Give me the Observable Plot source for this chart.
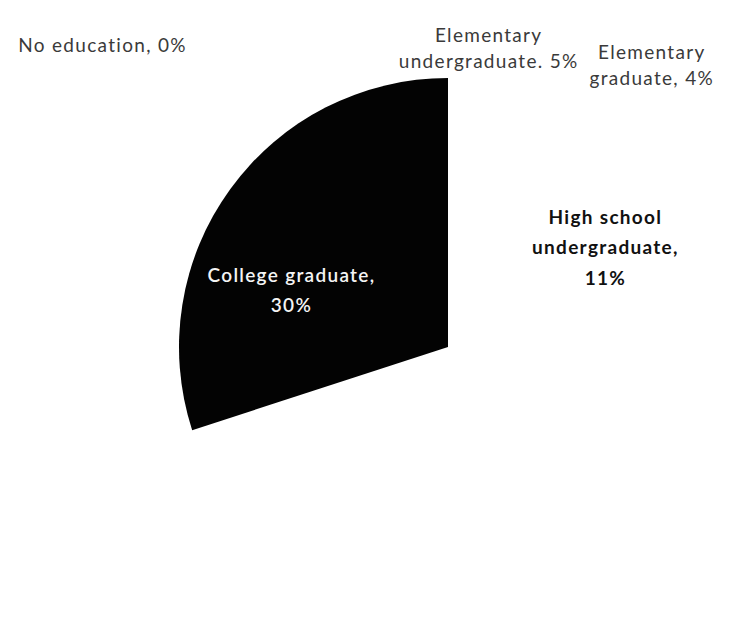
<!DOCTYPE html>
<html><head><meta charset="utf-8">
<script src="https://cdn.jsdelivr.net/npm/d3@7"></script>
<script src="https://cdn.jsdelivr.net/npm/@observablehq/plot@0.6"></script>
<style>body{margin:0;background:#fff;}</style>
</head><body><div id="chart"></div>
<script>
// ---- data ----
const categories = ["No education", "Elementary undergraduate", "Elementary graduate", "High school undergraduate", "High school graduate", "College undergraduate", "College graduate"];
const shares = [0, 5, 4, 11, 30, 20, 30];
const labels = ["No education, 0%", "Elementary\nundergraduate. 5%", "Elementary\ngraduate, 4%", "High school\nundergraduate,\n11%", "", "", "College graduate,\n30%"];

// ---- styles / layout ----
const sliceColors = ["#ffffff", "#ffffff", "#ffffff", "#ffffff", "#ffffff", "#ffffff", "#030303"];
const labelStyle = ["plain", "plain", "plain", "bold", "none", "none", "inverse"];
// label placement: polar angle (deg, clockwise from 12 o'clock) and radius factor
const labelAngle = [311.3, 7.6, 35.6, 56.7, 0, 0, 290.9];
const labelRadius = [1.712, 1.129, 1.298, 0.698, 0, 0, 0.625];
const W = 732, H = 619, CX = 448, CY = 347, R = 269;

const rows = categories.map((c, i) => ({category: c, share: shares[i], label: labels[i], color: sliceColors[i], style: labelStyle[i],
  lx: labelRadius[i] * Math.sin(labelAngle[i] * Math.PI / 180),
  ly: labelRadius[i] * Math.cos(labelAngle[i] * Math.PI / 180)}));
const arcs = d3.pie().sort(null).value(d => d.share)(rows);

function pieMark(index, scales) {
  const cx = scales.x(0), cy = scales.y(0), r = scales.x(1) - scales.x(0);
  const g = d3.create("svg:g").attr("transform", `translate(${cx},${cy})`);
  const arc = d3.arc().innerRadius(0).outerRadius(r);
  g.selectAll("path").data(arcs).join("path").attr("d", arc).attr("fill", d => d.data.color);
  return g.node();
}

const font = "Lato, 'Open Sans', sans-serif";
const plot = Plot.plot({
  width: W, height: H, margin: 0,
  style: {fontFamily: font, background: "#fff", letterSpacing: "1.3px"},
  x: {domain: [-CX / R, (W - CX) / R], axis: null},
  y: {domain: [-(H - CY) / R, CY / R], axis: null},
  marks: [
    pieMark,
    Plot.text(rows.filter(d => d.style === "plain"), {x: "lx", y: "ly", text: "label", fill: "#3a3a3a", fontSize: 19, lineHeight: 1.4, fontFamily: font}),
    Plot.text(rows.filter(d => d.style === "bold"), {x: "lx", y: "ly", text: "label", fill: "#111", fontSize: 19, fontWeight: "bold", lineHeight: 1.6, fontFamily: font}),
    Plot.text(rows.filter(d => d.style === "inverse"), {x: "lx", y: "ly", text: "label", fill: "#f4f4f4", fontSize: 19, fontWeight: 600, lineHeight: 1.55, fontFamily: font})
  ]
});
document.getElementById("chart").append(plot);
</script>
</body></html>
